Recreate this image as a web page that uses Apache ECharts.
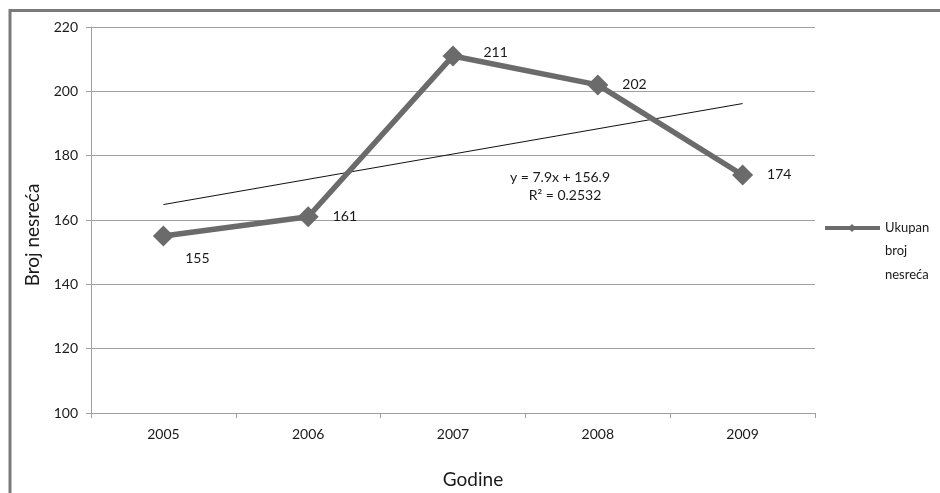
<!DOCTYPE html>
<html>
<head>
<meta charset="utf-8">
<script src="https://cdn.jsdelivr.net/npm/echarts@6/dist/echarts.min.js"></script>
<style>
html,body{margin:0;padding:0;background:#fff;}
#chart{width:940px;height:493px;}
</style>
</head>
<body>
<div id="chart"></div>
<script>
var categories = ['2005', '2006', '2007', '2008', '2009'];
var accidents = [155, 161, 211, 202, 174];
var trendValues = [164.8, null, null, null, 196.2];
var seriesName = 'Ukupan broj nesreća';
var legendLines = 'Ukupan\nbroj\nnesreća';
var equationLines = ['y = 7.9x + 156.9', 'R² = 0.2532'];

var FONT = 'Lato, "Open Sans", sans-serif';
var chart = echarts.init(document.getElementById('chart'));
var gray = '#6b6b6b';
var txt = '#1a1a1a';
var axisGray = '#a0a0a0';

var option = {
  animation: false,
  backgroundColor: '#fff',
  textStyle: {fontFamily: FONT},
  grid: {left: 91, right: 125, top: 27, bottom: 80, containLabel: false, outerBoundsMode: 'none'},
  xAxis: {
    type: 'category',
    data: categories,
    boundaryGap: true,
    name: 'Godine',
    nameLocation: 'middle',
    nameGap: 57,
    nameTextStyle: {fontSize: 19, color: txt, fontFamily: FONT, padding: [0, 0, 0, 40]},
    axisLine: {lineStyle: {color: axisGray, width: 1}},
    axisTick: {show: true, interval: 0, length: 5, lineStyle: {color: axisGray}},
    axisLabel: {fontSize: 14, color: txt, margin: 14, fontFamily: FONT},
    splitLine: {show: false}
  },
  yAxis: {
    type: 'value',
    min: 100, max: 220, interval: 20,
    name: 'Broj nesreća',
    nameLocation: 'middle',
    nameRotate: 90,
    nameGap: 47,
    nameTextStyle: {fontSize: 19, color: txt, fontFamily: FONT, padding: [0, 30, 0, 0]},
    axisLine: {show: true, lineStyle: {color: axisGray, width: 1}},
    axisTick: {show: true, length: 5, lineStyle: {color: axisGray}},
    axisLabel: {fontSize: 14, color: txt, margin: 13, fontFamily: FONT},
    splitLine: {lineStyle: {color: axisGray, width: 1}}
  },
  series: [
    {
      name: 'Trend',
      type: 'line',
      data: trendValues,
      connectNulls: true,
      symbol: 'none',
      lineStyle: {color: '#111', width: 1},
      z: 2,
      silent: true
    },
    {
      name: seriesName,
      type: 'line',
      data: accidents.map(function (v, i) {
        if (i === 0) {
          return {value: v, label: {position: 'bottom', distance: 5, offset: [34, 0]}};
        }
        if (i === 2) {
          return {value: v, label: {distance: 20, offset: [0, -3]}};
        }
        return v;
      }),
      symbol: 'diamond',
      symbolSize: 21,
      itemStyle: {color: gray},
      lineStyle: {color: gray, width: 5.5},
      label: {show: true, position: 'right', distance: 14, fontSize: 14, color: txt, fontFamily: FONT},
      z: 3
    }
  ],
  graphic: [
    {type: 'rect', shape: {x: 10, y: 10.5, width: 940, height: 500}, style: {fill: 'none', stroke: '#7a7a7a', lineWidth: 3}, z: 100},
    {type: 'text', x: 560, y: 177, style: {text: equationLines[0], font: '14px ' + FONT, fill: txt, textAlign: 'center', textVerticalAlign: 'middle'}},
    {type: 'text', x: 565, y: 195, style: {text: equationLines[1], font: '14px ' + FONT, fill: txt, textAlign: 'center', textVerticalAlign: 'middle'}},
    {type: 'line', shape: {x1: 825, y1: 228, x2: 880, y2: 228}, style: {stroke: gray, lineWidth: 4}},
    {type: 'polygon', shape: {points: [[852, 224], [856, 228], [852, 232], [848, 228]]}, style: {fill: gray}},
    {type: 'text', x: 885, y: 216, style: {text: legendLines, font: '13px ' + FONT, fill: txt, textAlign: 'left', textVerticalAlign: 'top', lineHeight: 23.5}}
  ]
};
chart.setOption(option);
</script>
</body>
</html>
